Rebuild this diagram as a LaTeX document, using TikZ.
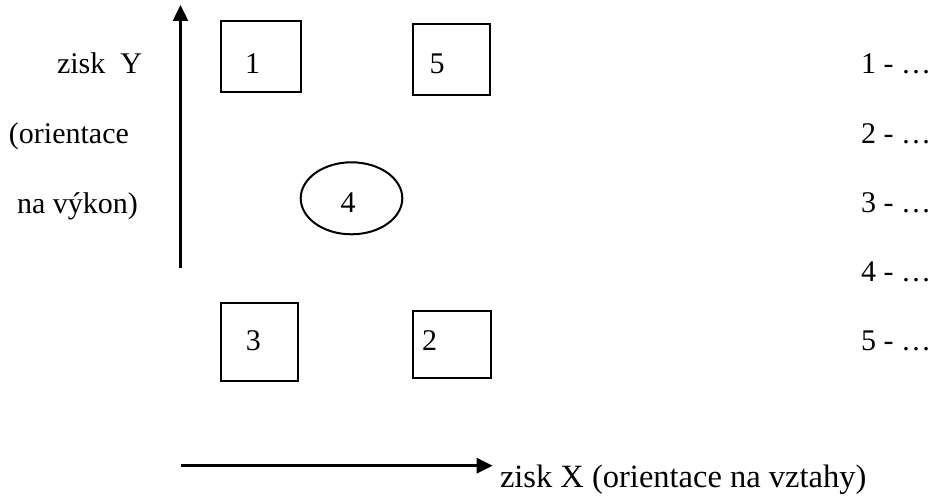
\documentclass[tikz,border=0pt]{standalone}
\usepackage{fontspec}
\setmainfont{Liberation Serif}
\usetikzlibrary{arrows.meta,shapes.geometric}
\begin{document}
\begin{tikzpicture}[x=1pt,y=-1pt,
  every node/.style={font=\fontsize{30}{36}\selectfont, inner sep=0pt, outer sep=0pt},
  boxnode/.style={draw, line width=2pt, rectangle},
  ovalnode/.style={draw, line width=2pt, ellipse},
  num/.style={anchor=base},
  axis/.style={line width=2.5pt, -{Triangle[length=16pt,width=15pt]}},
  lbl/.style={anchor=base west}]
\useasboundingbox (0,0) rectangle (933,495);
% boxes
\node[boxnode, minimum width=80pt, minimum height=71.6pt] (b1) at (260.7,56.5) {};
\node[boxnode, minimum width=77.6pt, minimum height=70.7pt] (b5) at (451.5,59.3) {};
\node[boxnode, minimum width=77.6pt, minimum height=78pt] (b3) at (259.5,341.7) {};
\node[boxnode, minimum width=78pt, minimum height=67.6pt] (b2) at (451.7,344.5) {};
\node[ovalnode, minimum width=101.6pt, minimum height=72pt] (e4) at (351.5,198.3) {};
% numbers
\node[num] (n1) at (252.5,74) {1};
\node[num] (n5) at (437,74) {5};
\node[num] (n4) at (348,212) {4};
\node[num] (n3) at (253.3,350.5) {3};
\node[num] (n2) at (429.7,350) {2};
% axes
\coordinate (ybot) at (180.5,268);
\coordinate (ytop) at (180.5,5);
\coordinate (xl) at (180.7,465.7);
\coordinate (xr) at (492.7,465.7);
\draw[axis] (ybot) -- (ytop);
\draw[axis] (xl) -- (xr);
% axis labels
\node[lbl] (ly1) at (57,73) {zisk\ \ Y};
\node[lbl] (ly2) at (9,143) {(orientace};
\node[lbl] (ly3) at (17,213) {na výkon)};
\node[lbl, font=\fontsize{32.5}{38}\selectfont] (lx) at (500,487) {zisk X (orientace na vztahy)};
% legend
\node[lbl] (k1) at (861,73) {1 - …};
\node[lbl] (k2) at (861,143) {2 - …};
\node[lbl] (k3) at (861,212) {3 - …};
\node[lbl] (k4) at (861,281) {4 - …};
\node[lbl] (k5) at (861,350) {5 - …};
\end{tikzpicture}
\end{document}
